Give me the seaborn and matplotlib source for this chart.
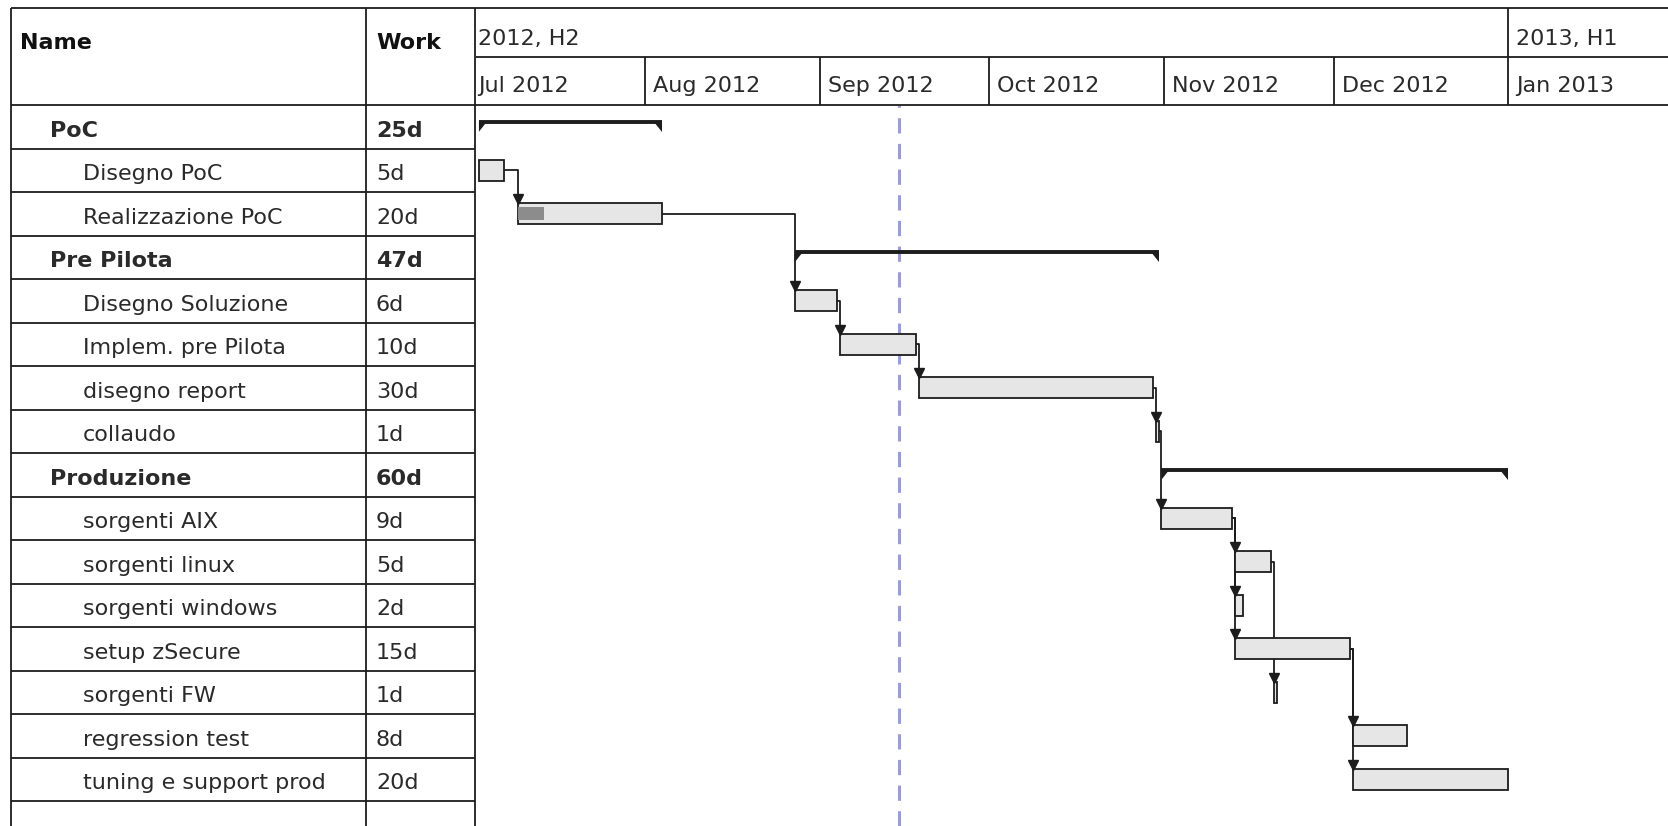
import pandas as pd
import matplotlib
matplotlib.use("Agg")
import matplotlib.pyplot as plt
import matplotlib.transforms as mtransforms
import seaborn as sns

# Task data
tasks = ["PoC", "Disegno PoC", "Realizzazione PoC", "Pre Pilota", "Disegno Soluzione",
         "Implem. pre Pilota", "disegno report", "collaudo", "Produzione", "sorgenti AIX",
         "sorgenti linux", "sorgenti windows", "setup zSecure", "sorgenti FW",
         "regression test", "tuning e support prod"]
work = ["25d", "5d", "20d", "47d", "6d", "10d", "30d", "1d", "60d", "9d", "5d", "2d",
        "15d", "1d", "8d", "20d"]
is_summary = [True, False, False, True, False, False, False, False, True, False, False,
              False, False, False, False, False]
starts = ["2012-07-02", "2012-07-02", "2012-07-09", "2012-08-27", "2012-08-27", "2012-09-04",
          "2012-09-18", "2012-10-30", "2012-10-31", "2012-10-31", "2012-11-13", "2012-11-13",
          "2012-11-13", "2012-11-20", "2012-12-04", "2012-12-04"]
ends = ["2012-08-04", "2012-07-07", "2012-08-04", "2012-10-31", "2012-09-04", "2012-09-18",
        "2012-10-30", "2012-10-31", "2013-01-01", "2012-11-13", "2012-11-20", "2012-11-15",
        "2012-12-04", "2012-11-21", "2012-12-14", "2013-01-01"]
progress = [0, 0, 0.18, 0, 0, 0, 0, 0, 0, 0, 0, 0, 0, 0, 0, 0]
links = [(1, 2), (2, 4), (4, 5), (5, 6), (6, 7), (7, 9), (9, 10), (9, 11), (9, 12),
         (10, 13), (12, 14), (12, 15)]
today = "2012-09-15"

months = ["Jul 2012", "Aug 2012", "Sep 2012", "Oct 2012", "Nov 2012", "Dec 2012", "Jan 2013"]
month_starts = ["2012-07-01", "2012-08-01", "2012-09-01", "2012-10-01", "2012-11-01",
                "2012-12-01", "2013-01-01"]
halves = ["2012, H2", "2013, H1"]
half_starts = ["2012-07-01", "2013-01-01"]

# Layout (pixels)
W, H = 1668, 826
TOP, MID, HEAD, ROW = 8, 57, 105, 43.5
COLS = [11, 366, 475.5]
CHART_LEFT = 476
ORIGIN = pd.Timestamp("2012-07-01")
VIEW = (0.98, 212.3)          # visible days from ORIGIN
INSET = 0.5                   # GanttProject draws bars a little after the start day
INK = "#1c1c1c"
TXT = "#2a2a2a"
FS = 16

sns.set_theme(style="white")
plt.rcParams["font.family"] = ["DejaVu Sans"]


def to_days(dates):
    return (pd.to_datetime(dates) - ORIGIN).days.to_numpy().astype(float)


d0 = to_days(starts) + INSET
d1 = to_days(ends)

fig = plt.figure(figsize=(W / 100, H / 100), dpi=100)
fig.patch.set_facecolor("white")

n_vis = (H - HEAD) / ROW
ax = fig.add_axes([CHART_LEFT / W, 0, 1 - CHART_LEFT / W, (H - HEAD) / H])
ax.set_facecolor("white")
ax.axis("off")

# today line
ax.axvline(to_days([today])[0], color="#9a9ae4", lw=2.2, ls=(0, (5, 3.4)), zorder=1)

# dependency connectors
for p, s in links:
    xe, ym = d1[p], p + 0.5
    xs, yt = d0[s], s + 0.26
    ax.plot([xe, xs, xs], [ym, ym, yt], color=INK, lw=1.3, zorder=2)
    ax.plot(xs, yt - 0.09, marker="v", ms=6.5, color=INK, mec=INK, zorder=5)

# bars
for i in range(len(tasks)):
    if is_summary[i]:
        y = i + 0.384
        ax.plot([d0[i], d1[i]], [y, y], color=INK, lw=2.8, solid_capstyle="butt", zorder=4)
        ax.fill([d0[i], d0[i] + 1.4, d0[i]], [y, y, y + 0.23], color=INK, lw=0, zorder=4)
        ax.fill([d1[i] - 1.4, d1[i], d1[i]], [y, y, y + 0.23], color=INK, lw=0, zorder=4)
    else:
        ax.barh(i + 0.5, d1[i] - d0[i], left=d0[i], height=0.48, color="#e6e6e6",
                edgecolor=INK, lw=1.3, zorder=3)
        if progress[i] > 0:
            ax.barh(i + 0.5, progress[i] * (d1[i] - d0[i]), left=d0[i], height=0.29,
                    color="#8c8c8c", lw=0, zorder=4)

ax.set_xlim(*VIEW)
ax.set_ylim(n_vis, 0)

# overlay for table and timeline header
ov = fig.add_axes([0, 0, 1, 1], zorder=5)
ov.patch.set_alpha(0)
ov.axis("off")
ov.set_xlim(0, W)
ov.set_ylim(H, 0)
row_tf = mtransforms.blended_transform_factory(ov.transData, ax.transData)
head_tf = mtransforms.blended_transform_factory(ax.transData, ov.transData)
label_tf = mtransforms.offset_copy(head_tf, fig=fig, x=8, units="dots")

ov.hlines([TOP, HEAD], COLS[0], W, color=INK, lw=1.3)
ov.hlines(MID, CHART_LEFT, W, color=INK, lw=1.3)
ov.vlines(COLS, TOP, H, color=INK, lw=1.3)
ov.hlines(range(1, len(tasks) + 1), COLS[0], COLS[2], color=INK, lw=1.3, transform=row_tf)

m_days = to_days(month_starts)
h_days = to_days(half_starts)
ov.vlines([d for d in m_days if d > VIEW[0]], MID, HEAD, color=INK, lw=1.3, transform=head_tf)
ov.vlines([d for d in h_days if d > VIEW[0]], TOP, MID, color=INK, lw=1.3, transform=head_tf)
for d, lab in zip(m_days, months):
    ov.text(d, 92, lab, transform=label_tf, fontsize=FS, color=TXT, va="baseline")
for d, lab in zip(h_days, halves):
    ov.text(d, 45, lab, transform=label_tf, fontsize=FS, color=TXT, va="baseline")

ov.text(20, 49, "Name", fontsize=FS, weight="bold", color="#111111", va="baseline")
ov.text(376, 49, "Work", fontsize=FS, weight="bold", color="#111111", va="baseline")
for i, (name, wk) in enumerate(zip(tasks, work)):
    bold = "bold" if is_summary[i] else "normal"
    x = 50 if is_summary[i] else 83
    ov.text(x, i + 0.73, name, transform=row_tf, fontsize=FS, weight=bold,
            color=TXT, va="baseline")
    ov.text(376, i + 0.73, wk, transform=row_tf, fontsize=FS, weight=bold,
            color=TXT, va="baseline")

fig.savefig("out.png", dpi=100)
